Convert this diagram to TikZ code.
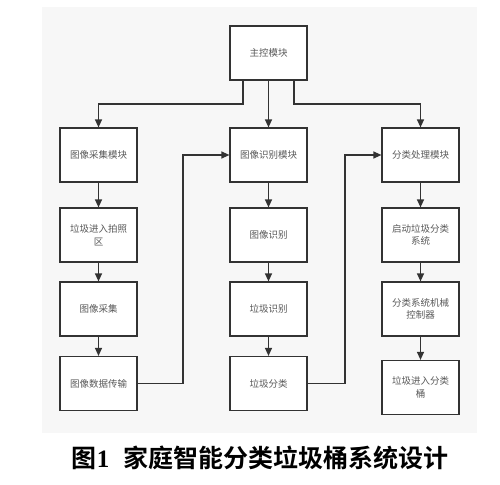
\documentclass[tikz,border=0pt]{standalone}
\usepackage{fontspec}
\setmainfont{Noto Sans CJK SC}
\newfontfamily\capfont{Noto Sans CJK SC Bold}
\usetikzlibrary{arrows.meta}
\begin{document}
\begin{tikzpicture}[x=1pt,y=-1pt,
  box/.style={draw=black!80,line width=1.2pt,fill=white,minimum width=77pt,minimum height=54pt,
    inner sep=0pt,align=center,font=\fontsize{9.5}{12.5}\selectfont,text=black!65},
  conn/.style={draw=black!80,line width=1.2pt,-{Triangle[length=8pt,width=7pt]}}]
\useasboundingbox (0,0) rectangle (500,484);
\fill[black!3] (42,7) rectangle (477,433);
\node[box] (main) at (268.5,53) {主控模块};
\node[box] (a1) at (98.5,155) {图像采集模块};
\node[box] (a2) at (98.5,235) {垃圾进入拍照\\区};
\node[box] (a3) at (98.5,309) {图像采集};
\node[box] (a4) at (98.5,383.5) {图像数据传输};
\node[box] (b1) at (268.5,155) {图像识别模块};
\node[box] (b2) at (268.5,235) {图像识别};
\node[box] (b3) at (268.5,309) {垃圾识别};
\node[box] (b4) at (268.5,383.5) {垃圾分类};
\node[box] (c1) at (420.5,155) {分类处理模块};
\node[box] (c2) at (420.5,235) {启动垃圾分类\\系统};
\node[box] (c3) at (420.5,309) {分类系统机械\\控制器};
\node[box] (c4) at (420.5,387.5) {垃圾进入分类\\桶};
\coordinate (ml) at (243,80);
\coordinate (mr) at (294,80);
\draw[conn] (ml) -- (243,104) -| (a1.north);
\draw[conn] (main.south) -- (b1.north);
\draw[conn] (mr) -- (294,104) -| (c1.north);
\draw[conn] (a1) -- (a2);
\draw[conn] (a2) -- (a3);
\draw[conn] (a3) -- (a4);
\draw[conn] (b1) -- (b2);
\draw[conn] (b2) -- (b3);
\draw[conn] (b3) -- (b4);
\draw[conn] (c1) -- (c2);
\draw[conn] (c2) -- (c3);
\draw[conn] (c3) -- (c4);
\draw[conn] (a4.east) -- (183,383.5) -- (183,155) -- (b1.west);
\draw[conn] (b4.east) -- (345,383.5) -- (345,155) -- (c1.west);
\node[font=\capfont\fontsize{25}{28}\selectfont,text=black] (cap) at (260,458) {图{\fontspec{Liberation Serif}\bfseries 1}\hspace{0.55em}家庭智能分类垃圾桶系统设计};
\end{tikzpicture}
\end{document}
